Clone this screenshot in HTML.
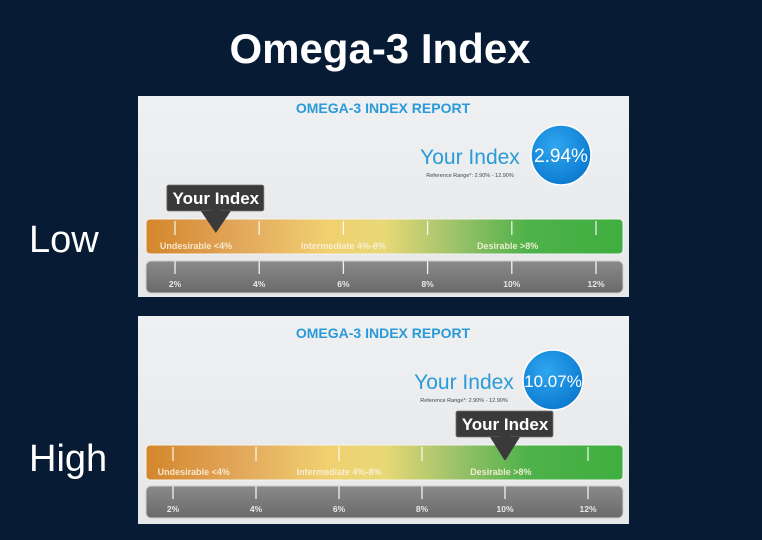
<!DOCTYPE html>
<html><head><meta charset="utf-8">
<style>
html,body{margin:0;padding:0;background:#071b34;}
svg{display:block;font-family:"Liberation Sans",sans-serif;}
</style></head>
<body>
<svg id="chart" width="762" height="540" viewBox="0 0 762 540">
<defs>
<linearGradient id="zoneGrad" x1="0" x2="1" y1="0" y2="0">
<stop offset="0" stop-color="#d4862c"/>
<stop offset="0.2" stop-color="#e2a85c"/>
<stop offset="0.38" stop-color="#f1d070"/>
<stop offset="0.5" stop-color="#e8d877"/>
<stop offset="0.65" stop-color="#9cc26a"/>
<stop offset="0.8" stop-color="#4eb24a"/>
<stop offset="1" stop-color="#3fae3f"/>
</linearGradient>
<linearGradient id="grayGrad" x1="0" x2="0" y1="0" y2="1">
<stop offset="0" stop-color="#8a8a8a"/><stop offset="0.5" stop-color="#7a7a7a"/><stop offset="1" stop-color="#6a6a6a"/>
</linearGradient>
<linearGradient id="panelGrad" x1="0" x2="0" y1="0" y2="1">
<stop offset="0" stop-color="#eef0f2"/><stop offset="1" stop-color="#e6e7e9"/>
</linearGradient>
<radialGradient id="circGrad" cx="0.4" cy="0.35" r="0.7">
<stop offset="0" stop-color="#2fa6ef"/><stop offset="1" stop-color="#0a78cf"/>
</radialGradient>
</defs>
<text x="380" y="63" text-anchor="middle" font-size="42" font-weight="bold" fill="#ffffff">Omega-3 Index</text>
<g id="panels"></g>
</svg>
<script>
const panelNames = ["Low", "High"];
const indexValues = [2.94, 10.07];
const markerValues = [2.97, 10.0];
const ticks = [2, 4, 6, 8, 10, 12];
const tickLabels = ["2%", "4%", "6%", "8%", "10%", "12%"];
const zoneLabels = ["Undesirable <4%", "Intermediate 4%-8%", "Desirable >8%"];
const zoneLabelValues = [2.5, 6.0, 9.9];

const NS = "http://www.w3.org/2000/svg";
const root = document.getElementById("panels");
function mk(tag, attrs, parent, text) {
  const e = document.createElementNS(NS, tag);
  for (const k in attrs) e.setAttribute(k, attrs[k]);
  if (text !== undefined) e.textContent = text;
  parent.appendChild(e);
  return e;
}
const layouts = [
  {px:138, py:96, ph:201, barY:219, grayY:261, x2:175, x12:596, cx:561, cy:155, tipY:233, labelY:238, titleY:113, yiX:470, yiY:164, refY:177},
  {px:138, py:316, ph:208, barY:445, grayY:486, x2:173, x12:588, cx:553, cy:380, tipY:461, labelY:457, titleY:338, yiX:464, yiY:389, refY:402}
];
layouts.forEach((L, i) => {
  const xs = v => L.x2 + (v - 2) * (L.x12 - L.x2) / 10;
  const g = mk("g", {}, root);
  
  
  const side = mk("text", {x:29, y:L.labelY + 14, "font-size":38, fill:"#ffffff"}, g, panelNames[i]);
  
  
  const bg = mk("rect", {x:L.px, y:L.py, width:491, height:L.ph, fill:"url(#panelGrad)"}, g);
  
  
  const t = mk("text", {x:383, y:L.titleY, "text-anchor":"middle", "font-size":14, "font-weight":"bold", fill:"#2a9ad8"}, g, "OMEGA-3 INDEX REPORT");
  
  
  const yi = mk("text", {x:L.yiX, y:L.yiY, "text-anchor":"middle", "font-size":21, fill:"#2a9ad8"}, g, "Your Index");
  
  
  const rf = mk("text", {x:L.yiX, y:L.refY, "text-anchor":"middle", "font-size":5.5, fill:"#444"}, g, "Reference Range*: 2.90% - 12.90%");
  
  
  const c = mk("circle", {cx:L.cx, cy:L.cy, r:30, fill:"url(#circGrad)", stroke:"#ffffff", "stroke-width":1.5}, g);
  
  
  const cv = mk("text", {x:L.cx, y:L.cy + 7, "text-anchor":"middle", "font-size":indexValues[i] >= 10 ? 17 : 19, fill:"#ffffff"}, g, indexValues[i].toFixed(2) + "%");
  
  
  const zb = mk("rect", {x:146, y:L.barY, width:477, height:35, rx:4, fill:"url(#zoneGrad)", stroke:"#f4f4f4", "stroke-width":1}, g);
  
  
  const gb = mk("rect", {x:146, y:L.grayY, width:477, height:32, rx:5, fill:"url(#grayGrad)", stroke:"#cfcfcf", "stroke-width":1}, g);
  
  
  ticks.forEach((v, k) => {
    const x = xs(v);
    const zt = mk("line", {x1:x, x2:x, y1:L.barY + 2, y2:L.barY + 16, stroke:"#ffffff", "stroke-width":1.3, opacity:0.85}, g);
    
    
    const st = mk("line", {x1:x, x2:x, y1:L.grayY, y2:L.grayY + 13, stroke:"#f2f2f2", "stroke-width":1.3}, g);
    
    
    const tl = mk("text", {x:x, y:L.grayY + 26, "text-anchor":"middle", "font-size":8.5, "font-weight":"bold", fill:"#e8e8e8"}, g, tickLabels[k]);
    
    
  });
  zoneLabels.forEach((s, k) => {
    const zl = mk("text", {x:xs(zoneLabelValues[k]), y:L.barY + 30, "text-anchor":"middle", "font-size":9, "font-weight":"bold", fill:"#fbf1dc", opacity:0.9}, g, s);
    
    
  });
  const mx = xs(markerValues[i]);
  const boxY = L.barY - 34;
  const box = mk("rect", {x:mx - 49, y:boxY, width:97, height:26, rx:2, fill:"#3a3a3a", stroke:"#777", "stroke-width":0.8}, g);
  
  
  const arr = mk("polygon", {points:`${mx - 15},${boxY + 26} ${mx + 15},${boxY + 26} ${mx},${L.tipY}`, fill:"#3a3a3a"}, g);
  
  
  const ms = mk("rect", {x:mx - 5, y:boxY + 24, width:10, height:6, fill:"#3a3a3a"}, g);
  
  
  const mt = mk("text", {x:mx, y:boxY + 19, "text-anchor":"middle", "font-size":17, "font-weight":"bold", fill:"#ffffff"}, g, "Your Index");
  
  
});
</script>
</body></html>
